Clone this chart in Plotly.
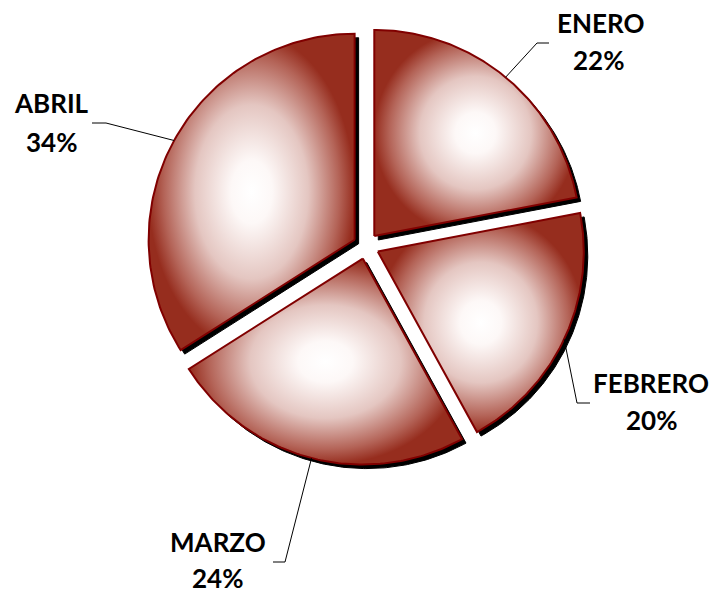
import numpy as np
import plotly.graph_objects as go

# ---- data ----
months = ["ENERO", "FEBRERO", "MARZO", "ABRIL"]
percents = [22, 20, 24, 34]

# ---- layout constants (pixel-like coordinates) ----
W, H = 714, 593
CX, CY = 366, 246
R = 206
PULL = 13
SHADOW_DX, SHADOW_DY = 4, 4
name_pos = [(600, 23), (651, 383), (218, 542), (51, 103)]
pct_pos = [(598, 60), (651, 420), (217, 578), (51, 142)]
leader_end = [(549, 43), (590, 403), (273, 562), (92, 123)]
leader_elbow = [(537, 43), (577, 403), (285, 562), (106, 123)]

EDGE = "rgb(150,45,30)"
OUTLINE = "rgb(128,0,0)"
FONT = "Lato"
GRAD = [[0, "white"], [0.2, "rgb(253,248,247)"], [0.55, "rgb(228,198,193)"],
        [0.85, "rgb(180,100,88)"], [1, EDGE]]

fig = go.Figure()

total = float(sum(percents))
geo = []
acc = 0.0
for name, p in zip(months, percents):
    a0 = acc / total * 2 * np.pi
    a1 = (acc + p) / total * 2 * np.pi
    mid = (a0 + a1) / 2
    ox = CX + PULL * np.sin(mid)
    oy = CY - PULL * np.cos(mid)
    t = np.linspace(a0, a1, 120)
    xs = np.concatenate([[ox], ox + R * np.sin(t), [ox]])
    ys = np.concatenate([[oy], oy - R * np.cos(t), [oy]])
    geo.append((xs, ys, ox, oy, mid))
    acc += p

# shadows
for xs, ys, ox, oy, mid in geo:
    fig.add_trace(go.Scatter(x=xs + SHADOW_DX, y=ys + SHADOW_DY, mode="lines",
                             fill="toself", fillcolor="black",
                             line=dict(color="black", width=1),
                             hoverinfo="skip", showlegend=False))

# slices
for (xs, ys, ox, oy, mid), name, p in zip(geo, months, percents):
    fig.add_trace(go.Scatter(x=xs, y=ys, mode="lines", fill="toself",
                             fillgradient=dict(type="radial", colorscale=GRAD),
                             line=dict(color=OUTLINE, width=2),
                             name=name, hoverinfo="name", showlegend=False))

# leader lines
for (xs, ys, ox, oy, mid), el, en in zip(geo, leader_elbow, leader_end):
    ax = ox + R * np.sin(mid)
    ay = oy - R * np.cos(mid)
    fig.add_trace(go.Scatter(x=[ax, el[0], en[0]], y=[ay, el[1], en[1]], mode="lines",
                             line=dict(color="black", width=1),
                             hoverinfo="skip", showlegend=False))

# labels
for name, p, npos, ppos in zip(months, percents, name_pos, pct_pos):
    fig.add_annotation(x=npos[0], y=npos[1], text="<b>%s</b>" % name, showarrow=False,
                       xanchor="center", yanchor="middle",
                       font=dict(family=FONT, size=26, color="black"))
    fig.add_annotation(x=ppos[0], y=ppos[1], text="<b>%d%%</b>" % p, showarrow=False,
                       xanchor="center", yanchor="middle",
                       font=dict(family=FONT, size=26, color="black"))

fig.update_layout(width=W, height=H, margin=dict(l=0, r=0, t=0, b=0),
                  paper_bgcolor="white", plot_bgcolor="white",
                  xaxis=dict(range=[0, W], visible=False, fixedrange=True),
                  yaxis=dict(range=[H, 0], visible=False, fixedrange=True))

fig.write_html("out.html", config={"displayModeBar": False},
               post_script="document.body.style.margin='0';document.body.style.overflow='hidden';")
